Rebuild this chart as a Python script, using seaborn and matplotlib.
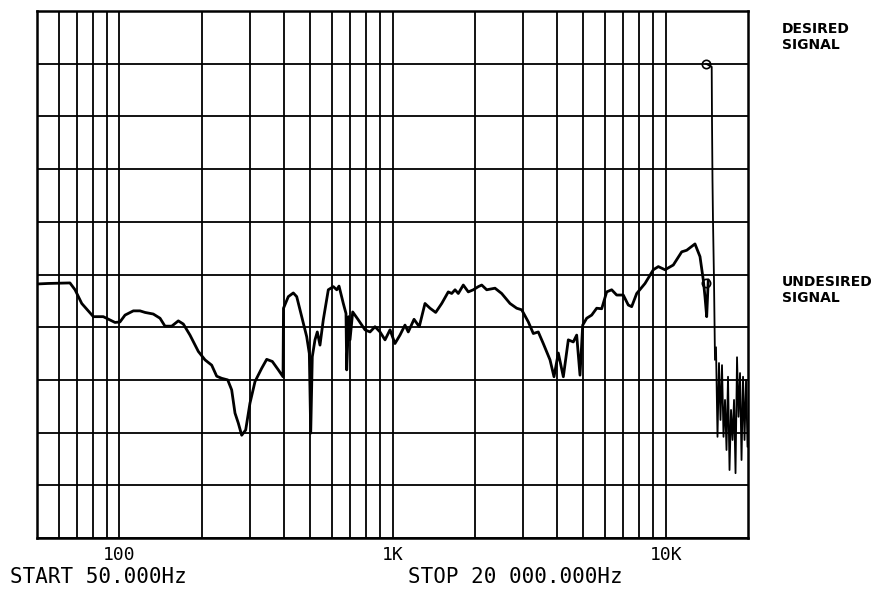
import numpy as np
import pandas as pd
import matplotlib
matplotlib.use("Agg")
import matplotlib.pyplot as plt
import seaborn as sns

# undesired signal trace (Hz, dB)
freq = [50, 54.9, 66, 68.9, 72.9, 80.4, 87.4, 96.5, 100.6, 105,
        112.6, 119.1, 124.3, 133.2, 141, 147, 155.6, 164.5, 171.6, 181.5,
        194.7, 206, 217.9, 227.3, 237.1, 249.4, 257.9, 265.2, 272.7, 280.6,
        290.2, 300.9, 314, 332.1, 346.4, 363.2, 382.1, 397.5, 399.1, 415.6,
        433.5, 446.1, 465.3, 485.3, 496.1, 502, 508.7, 520.4, 530.6, 542.8,
        558.1, 582.2, 607.3, 625, 637.2, 660.7, 675.8, 679.8, 691.3, 699,
        715, 749.5, 793.2, 827.4, 863, 900.2, 938.9, 979.3, 1021, 1065,
        1111, 1142, 1199, 1253, 1315, 1372, 1439, 1514, 1600, 1647,
        1694, 1741, 1816, 1894, 1976, 2061, 2121, 2212, 2372, 2509,
        2692, 2848, 2971, 3141, 3276, 3416, 3563, 3771, 3900, 4044,
        4219, 4400, 4588, 4721, 4855, 4967, 5137, 5358, 5588, 5829,
        6079, 6340, 6614, 6993, 7294, 7505, 7829, 8397, 9005, 9393,
        9938, 10657, 11440, 11931, 12794, 13345, 13719, 13918, 14120, 14310]
level = [-51.8, -51.7, -51.6, -52.9, -55.5, -58.0, -58.0, -59.1, -59.0, -57.7,
         -56.9, -56.9, -57.2, -57.5, -58.3, -59.8, -59.8, -58.8, -59.4, -61.5,
         -64.6, -66.2, -67.2, -69.3, -69.7, -70.0, -71.9, -76.3, -78.2, -80.5,
         -79.5, -74.4, -70.3, -67.8, -66.1, -66.5, -68.1, -69.4, -56.4, -54.2,
         -53.5, -54.2, -58.0, -61.8, -65.0, -80.1, -65.6, -62.4, -60.9, -63.4,
         -58.6, -52.9, -52.3, -52.9, -52.2, -55.5, -57.4, -68.1, -58.0, -62.4,
         -57.1, -58.6, -60.5, -60.9, -59.9, -60.9, -62.4, -60.5, -63.1, -61.5,
         -59.6, -60.9, -58.5, -59.9, -55.5, -56.4, -57.2, -55.5, -53.3, -53.6,
         -52.9, -53.6, -52.0, -53.3, -52.9, -52.3, -52.0, -52.9, -52.6, -53.6,
         -55.5, -56.4, -56.7, -59.0, -61.2, -60.9, -63.1, -66.2, -69.4, -64.9,
         -69.4, -62.4, -62.8, -61.5, -69.1, -59.6, -58.3, -57.7, -56.4, -56.5,
         -53.3, -52.9, -53.9, -53.9, -55.8, -56.1, -53.6, -51.7, -49.1, -48.5,
         -49.1, -48.2, -45.7, -45.4, -44.2, -46.6, -51.0, -54.2, -58.0, -51.0]

# desired signal roll-off
des_freq = [14035, 14730, 14766, 14828, 14890, 15016, 15143]
des_level = [-10.0, -10.6, -20.7, -32.1, -39.7, -51.0, -66.2]

# noise floor above the cutoff
noise_freq = [15272, 15467, 15663, 15863, 16066, 16270, 16477, 16687, 16900, 17115, 17333,
              17554, 17777, 18004, 18233, 18465, 18700, 18939, 19180, 19424, 19671, 19922]
noise_level = [-63.8, -80.8, -66.8, -77.6, -67.2, -80.8, -73.8, -83.3, -69.4, -87.1, -75.7,
               -81.4, -73.8, -87.7, -65.7, -77.0, -68.7, -85.2, -69.4, -81.4, -70.0, -82.7]

# marker circles
mark_freq = [14035, 14035]
mark_level = [-10.0, -51.6]

major_ticks = [100, 1000, 10000]
major_labels = ["100", "1K", "10K"]
minor_ticks = [60, 70, 80, 90, 200, 300, 400, 500, 600, 700, 800, 900,
               2000, 3000, 4000, 5000, 6000, 7000, 8000, 9000]

sns.set_style("white")
plt.rcParams["text.color"] = "black"
fig = plt.figure(figsize=(8.94, 5.91), dpi=100)
ax = fig.add_axes([37/894, 53/591, 711/894, 527/591])

df = pd.DataFrame({"f": freq, "L": level})
sns.lineplot(data=df, x="f", y="L", ax=ax, color="black", lw=2.0, sort=False, estimator=None)
sns.lineplot(x=des_freq, y=des_level, ax=ax, color="black", lw=1.3, sort=False, estimator=None)
sns.lineplot(x=noise_freq, y=noise_level, ax=ax, color="black", lw=1.3, sort=False, estimator=None)
ax.plot(mark_freq, mark_level, ls="none", marker="o", ms=6, mfc="none", mec="black", mew=1.2)

ax.set_xscale("log")
ax.set_xlim(50, 20000)
ax.set_ylim(-100, 0)
ax.set_xticks(major_ticks)
ax.set_xticklabels(major_labels)
ax.set_xticks(minor_ticks, minor=True)
ax.set_xticklabels([], minor=True)
ax.set_yticks(np.arange(-100, 1, 10))
ax.set_yticklabels([])
ax.grid(True, which="both", color="black", lw=1.3)
ax.tick_params(axis="x", which="major", length=5, width=1.3, color="black", pad=1,
               labelsize=13, labelcolor="black")
ax.tick_params(axis="x", which="minor", length=0)
ax.tick_params(axis="y", length=0)
for lab in ax.get_xticklabels():
    lab.set_family("DejaVu Sans Mono")
ax.set_xlabel("")
ax.set_ylabel("")
for sp in ax.spines.values():
    sp.set_color("black")
    sp.set_linewidth(1.8)

fig.text(782/894, 1 - 22/591, "DESIRED\nSIGNAL", fontsize=10, fontweight="bold",
         va="top", ha="left", linespacing=1.2, color="black")
fig.text(782/894, 1 - 275/591, "UNDESIRED\nSIGNAL", fontsize=10, fontweight="bold",
         va="top", ha="left", linespacing=1.2, color="black")
fig.text(10/894, 1 - 577/591, "START 50.000Hz", fontsize=15, family="DejaVu Sans Mono",
         va="center", ha="left", color="black")
fig.text(408/894, 1 - 577/591, "STOP 20 000.000Hz", fontsize=15, family="DejaVu Sans Mono",
         va="center", ha="left", color="black")

fig.savefig("out.png", dpi=100)
